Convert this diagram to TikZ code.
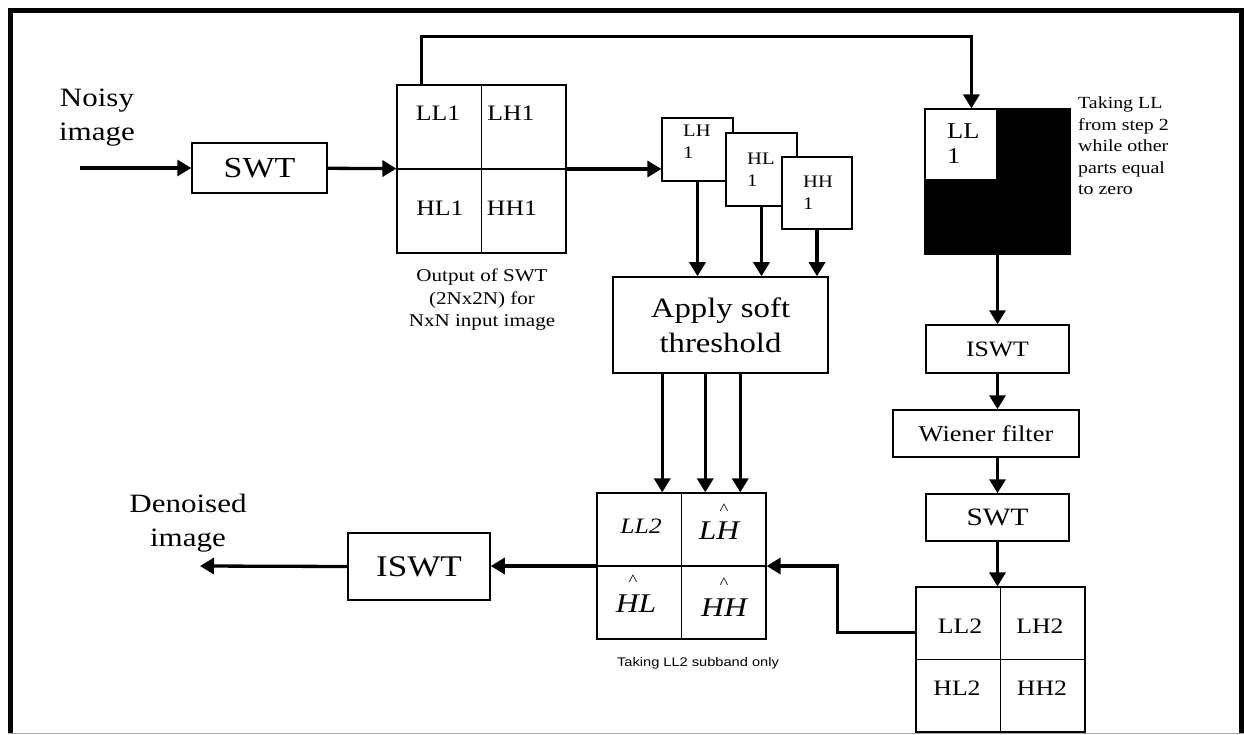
\documentclass[tikz,border=0pt]{standalone}
\usepackage{fontspec}
\setmainfont{Liberation Serif}[FakeStretch=1.17]
\setsansfont{Liberation Sans}[FakeStretch=1.17]
\usetikzlibrary{positioning, arrows.meta, calc}

\begin{document}
\begin{tikzpicture}[
        x=1pt, y=-1pt,
        every node/.style={align=center, inner sep=0pt},
        box/.style={draw=black, line width=1.5pt, rectangle, fill=white},
        tile/.style={draw=black, line width=1.2pt, rectangle, fill=white},
        arrow/.style={-{Triangle[length=14pt,width=16pt]}, line width=3.3pt, draw=black},
        bigtxt/.style={font=\fontsize{26.5pt}{34pt}\selectfont},
        gridtxt/.style={font=\fontsize{22pt}{23pt}\selectfont},
        subtxt/.style={font=\fontsize{17.6pt}{22pt}\selectfont, align=left},
        hattxt/.style={font=\fontsize{27pt}{30pt}\selectfont\itshape},
        caret/.style={font=\fontsize{16pt}{16pt}\selectfont},
        notetxt/.style={font=\fontsize{17pt}{21.5pt}\selectfont, align=left}
    ]

    \useasboundingbox (0,0) rectangle (1244,735);

    % frame
    \draw[line width=5pt] (10.5,733) -- (10.5,11) -- (1241,11) -- (1241,733);
    \draw[gray!70, line width=1pt] (8,733.5) -- (1244,733.5);

    % 1. Input and first SWT
    \node[bigtxt] (noisy) at (97,118) {Noisy\\image};
    \coordinate (in) at (80,168);
    \node[box, minimum width=135pt, minimum height=50pt, font=\fontsize{29pt}{30pt}\selectfont] (swt) at (259.5,168) {SWT};

    % 2. Subbands of the first SWT
    \node[tile, minimum width=169pt, minimum height=168pt] (sub1) at (481.5,169) {};
    \draw[line width=1.2pt] (sub1.north) -- (sub1.south) (sub1.west) -- (sub1.east);
    \node[gridtxt, anchor=base] (ll1) at (438,121) {LL1};
    \node[gridtxt, anchor=base] (lh1t) at (511,121) {LH1};
    \node[gridtxt, anchor=base] (hl1t) at (440,216) {HL1};
    \node[gridtxt, anchor=base] (hh1t) at (512,216) {HH1};
    \node[font=\fontsize{18pt}{22.5pt}\selectfont] (cap1) at (482,300) {Output of SWT\\(2Nx2N) for\\NxN input image};

    % 3. Detail subbands
    \node[tile, minimum width=71pt, minimum height=63pt] (lh1) at (697.5,149.5) {};
    \node[subtxt, anchor=north west] (lh1n) at (683,125) {LH\\1};
    \node[tile, minimum width=71pt, minimum height=73pt] (hl1) at (761.5,169.5) {};
    \node[subtxt, anchor=north west] (hl1n) at (747,153) {HL\\1};
    \node[tile, minimum width=70pt, minimum height=72pt] (hh1) at (817,193) {};
    \node[subtxt, anchor=north west] (hh1n) at (803,176) {HH\\1};

    % 4. Soft threshold
    \node[box, minimum width=215pt, minimum height=96pt, font=\fontsize{28pt}{35pt}\selectfont] (thr) at (720.5,325) {Apply soft\\threshold};

    % 5. Modified subbands
    \node[tile, minimum width=169pt, minimum height=146pt] (sub2) at (681.5,566) {};
    \draw[line width=1.2pt] (sub2.north) -- (sub2.south) (sub2.west) -- (sub2.east);
    \node[font=\fontsize{22pt}{23pt}\selectfont\itshape] (ll2i) at (641,526) {LL2};
    \node[caret] (lhhat) at (724,509.5) {\textasciicircum};
    \node[hattxt] (lhi) at (719,531) {LH};
    \node[caret] (hlhat) at (633,580.5) {\textasciicircum};
    \node[hattxt] (hli) at (636,604) {HL};
    \node[caret] (hhhat) at (724,583.5) {\textasciicircum};
    \node[hattxt] (hhi) at (724,608) {HH};
    \node[font=\fontsize{12.5pt}{14pt}\sffamily] (cap2) at (698,663) {Taking LL2 subband only};

    % 6. Output
    \node[box, minimum width=142pt, minimum height=67pt, font=\fontsize{30pt}{31pt}\selectfont] (iswtL) at (419,566.5) {ISWT};
    \coordinate (out) at (200,566);
    \node[bigtxt] (denoised) at (188,523.5) {Denoised\\image};

    % 7. Approximation branch
    \node[draw=black, fill=black, line width=1.2pt, minimum size=145pt] (llbox) at (997.5,181.5) {};
    \node[tile, anchor=north west, minimum width=72pt, minimum height=71pt] (llwhite) at (llbox.north west) {};
    \node[font=\fontsize{22.6pt}{25pt}\selectfont, align=left, anchor=north west] (lln) at (947,124) {LL\\1};
    \node[notetxt, anchor=west] (note) at (1078,146) {Taking LL\\from step 2\\while other\\parts equal\\to zero};
    \node[box, minimum width=143pt, minimum height=48pt, font=\fontsize{22pt}{23pt}\selectfont] (iswtR) at (997.5,349) {ISWT};
    \node[box, minimum width=186pt, minimum height=47pt, font=\fontsize{22.6pt}{23pt}\selectfont] (wiener) at (986,433.5) {Wiener filter};
    \node[box, minimum width=143pt, minimum height=47pt, font=\fontsize{25pt}{26pt}\selectfont] (swtR) at (997.5,517.5) {SWT};
    \node[tile, minimum width=169pt, minimum height=145pt] (sub3) at (1000.5,659.5) {};
    \draw[line width=1.2pt] (sub3.north) -- (sub3.south) (sub3.west) -- (sub3.east);
    \node[gridtxt, anchor=base] (ll2) at (960,633) {LL2};
    \node[gridtxt, anchor=base] (lh2) at (1040,633) {LH2};
    \node[gridtxt, anchor=base] (hl2) at (957,695) {HL2};
    \node[gridtxt, anchor=base] (hh2) at (1042,695) {HH2};

    % Arrows
    \draw[arrow] (in) -- (swt);
    \draw[arrow] (swt) -- (sub1);
    \draw[arrow] (sub1.east) -- (sub1.east -| lh1.west);
    \draw[arrow] ([xshift=25pt]sub1.north west) -- ++(0,-48) -| ([xshift=47pt]llbox.north west);
    \draw[arrow] (lh1.south) -- (lh1.south |- thr.north);
    \draw[arrow] (hl1.south) -- (hl1.south |- thr.north);
    \draw[arrow] (hh1.south) -- (hh1.south |- thr.north);
    \draw[arrow] ([xshift=50pt]thr.south west) -- ([xshift=50pt]thr.south west |- sub2.north);
    \draw[arrow] ([xshift=93pt]thr.south west) -- ([xshift=93pt]thr.south west |- sub2.north);
    \draw[arrow] ([xshift=128pt]thr.south west) -- ([xshift=128pt]thr.south west |- sub2.north);
    \draw[arrow] (llbox.south) -- (iswtR.north);
    \draw[arrow] (iswtR.south) -- (iswtR.south |- wiener.north);
    \draw[arrow] (iswtR.south |- wiener.south) -- (swtR.north);
    \draw[arrow] (swtR.south) -- (swtR.south |- sub3.north);
    \draw[arrow] ([yshift=-46pt]sub3.north west) -- ++(-78,0) |- (sub2.east);
    \draw[arrow] (sub2.west) -- (sub2.west -| iswtL.east);
    \draw[arrow] (iswtL.west) -- (out);

\end{tikzpicture}
\end{document}
